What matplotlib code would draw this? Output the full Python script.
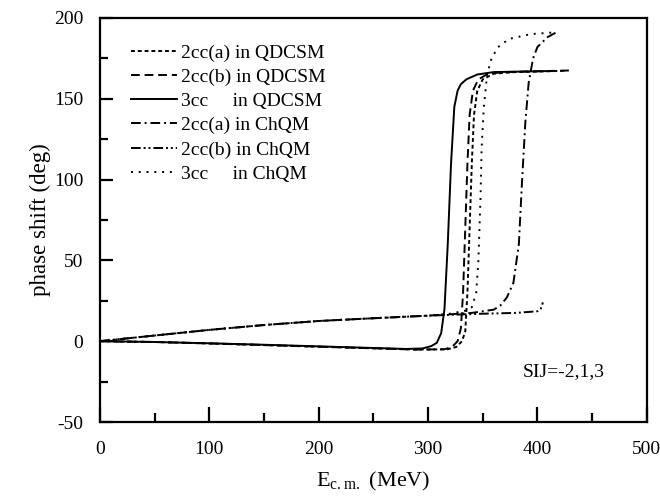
import matplotlib
matplotlib.use("Agg")
import matplotlib.pyplot as plt
from matplotlib.ticker import MultipleLocator

plt.rcParams['font.family'] = ['Liberation Serif', 'DejaVu Serif']
plt.rcParams['mathtext.fontset'] = 'custom'
plt.rcParams['mathtext.rm'] = 'Liberation Serif'
plt.rcParams['axes.unicode_minus'] = False

# ---- data ----
e_2cca_q = [0, 50, 100, 150, 200, 250, 290, 318, 326, 331, 334, 336, 338, 340, 342, 345, 350, 360, 380, 410, 425]
d_2cca_q = [0, -0.5, -1.4, -2.4, -3.4, -4.4, -5.2, -5.0, -3.5, 0, 6, 30, 70, 110, 140, 155, 162, 165.5, 166.5, 167, 167.3]

e_2ccb_q = [0, 50, 100, 150, 200, 250, 290, 315, 322, 327, 330, 332, 334, 336, 338, 341, 346, 355, 370, 400, 430]
d_2ccb_q = [0, -0.5, -1.4, -2.4, -3.4, -4.4, -5.2, -5.0, -3.5, 0, 8, 30, 70, 110, 140, 155, 162, 165.5, 166.5, 167, 167.5]

e_3cc_q = [0, 50, 100, 150, 200, 250, 280, 295, 303, 308, 312, 315, 318, 321, 324, 327, 330, 335, 345, 360, 400, 415]
d_3cc_q = [0, -0.5, -1.3, -2.2, -3.2, -4.2, -4.8, -4.5, -3, -1, 5, 20, 60, 110, 145, 155, 159, 162, 165, 166.5, 167, 167.2]

e_2cca_c = [0, 50, 100, 150, 200, 250, 300, 340, 360, 366, 372, 378, 383, 386, 389, 392, 396, 400, 409, 417]
d_2cca_c = [0, 3.5, 7, 10, 12.5, 14.2, 15.8, 17.5, 19.5, 22, 27, 36, 60, 100, 136, 160, 175, 182, 188, 191]

e_2ccb_c = [0, 50, 100, 150, 200, 250, 300, 350, 380, 400, 403, 405]
d_2ccb_c = [0, 3.5, 7, 10, 12.5, 14.2, 15.8, 17, 17.5, 18.5, 20, 24]

e_3cc_c = [0, 50, 100, 150, 200, 250, 300, 320, 335, 340, 344, 346, 348, 349, 351, 354, 358, 364, 374, 394, 415]
d_3cc_c = [0, 3.5, 7, 10, 12.5, 14.2, 15.8, 17, 19, 21, 30, 50, 90, 120, 145, 165, 175, 182, 187, 190, 191]

labels = ["2cc(a) in QDCSM", "2cc(b) in QDCSM", "3cc     in QDCSM",
          "2cc(a) in ChQM", "2cc(b) in ChQM", "3cc     in ChQM"]

x_ticks = [0, 100, 200, 300, 400, 500]
y_ticks = [-50, 0, 50, 100, 150, 200]

# ---- plot ----
fig = plt.figure(figsize=(6.6, 4.98), dpi=100)
ax = fig.add_axes([0.1515, 0.1526, 0.8285, 0.8114])

series = [
    (e_2cca_q, d_2cca_q, (0, (2.0, 1.5))),
    (e_2ccb_q, d_2ccb_q, (0, (4.5, 2.5))),
    (e_3cc_q, d_3cc_q, '-'),
    (e_2cca_c, d_2cca_c, (0, (5, 2, 1, 2))),
    (e_2ccb_c, d_2ccb_c, (0, (5, 1.5, 1, 1.5, 1, 1.5))),
    (e_3cc_c, d_3cc_c, (0, (1, 3))),
]
for (xs, ys, ls), lab in zip(series, labels):
    ax.plot(xs, ys, color='black', linestyle=ls, linewidth=1.4, label=lab)

ax.set_xlim(0, 500)
ax.set_ylim(-50, 200)
ax.set_xticks(x_ticks)
ax.set_yticks(y_ticks)
ax.xaxis.set_minor_locator(MultipleLocator(50))
ax.yaxis.set_minor_locator(MultipleLocator(25))
ax.tick_params(which='major', direction='in', length=11, width=1.6, labelsize=14,
               top=False, right=False)
ax.tick_params(which='minor', direction='in', length=6.5, width=1.6, top=False, right=False)
ax.tick_params(axis='x', which='major', pad=14)
ax.tick_params(axis='y', which='major', length=9, pad=12)
ax.tick_params(axis='y', which='minor', length=5.5)
for sp in ax.spines.values():
    sp.set_linewidth(1.6)

ax.set_xlabel(r'E$_{\rm c.m.}$ (MeV)', fontsize=16, labelpad=8)
ax.set_ylabel('phase shift (deg)', fontsize=16.5, labelpad=2)

ax.text(387, -19, 'SIJ=-2,1,3', fontsize=14, va='center', ha='left')

leg = ax.legend(loc='upper left', bbox_to_anchor=(0.042, 0.955), frameon=False,
                fontsize=14, handlelength=2.4, handletextpad=0.2,
                labelspacing=0.34, borderaxespad=0)

fig.savefig('out.png', dpi=100)
